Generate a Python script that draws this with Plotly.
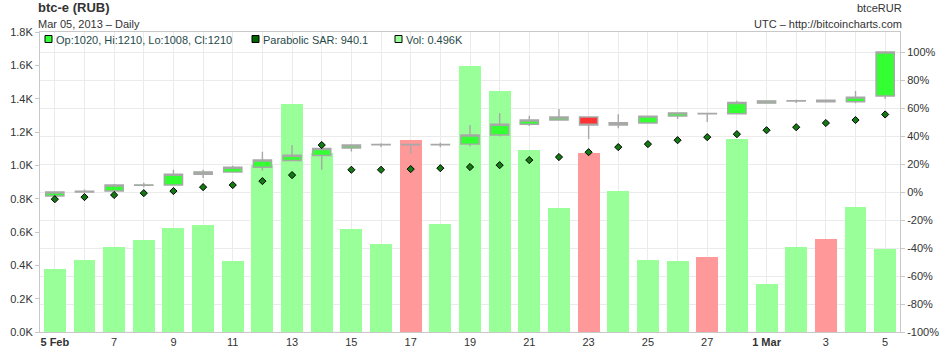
import pandas as pd
import plotly.graph_objects as go

# Daily btc-e RUB candles, 5 Feb - 5 Mar 2013
dates = pd.date_range("2013-02-05", "2013-03-05", freq="D")

opens = [588, 605, 609, 634, 635, 682, 691, 712, 741, 763, 795, 809, 810, 809, 812,
         851, 898, 916, 929, 894, 903, 933, 944, 943, 989, 998, 1002, 995, 1020]
highs = [606, 616, 640, 645, 701, 701, 718, 779, 808, 794, 810, 816, 814, 818, 894,
         946, 934, 964, 929, 941, 935, 947, 948, 999, 1000, 1004, 1003, 1042, 1210]
lows = [587, 603, 609, 625, 634, 665, 689, 698, 740, 701, 780, 799, 769, 798, 802,
        845, 890, 916, 834, 881, 903, 920, 907, 943, 988, 990, 994, 989, 1008]
closes = [605, 608, 635, 636, 682, 692, 712, 743, 764, 793, 808, 811, 809, 811, 851,
          898, 916, 929, 894, 904, 933, 947, 943, 992, 999, 1000, 995, 1015, 1210]
sar = [574, 583, 592, 600, 609, 626, 635, 652, 678, 808, 701, 701, 704, 708, 713,
       721, 743, 756, 777, 799, 812, 829, 842, 855, 872, 885, 903, 916, 940.1]
volume = [378, 432, 510, 552, 624, 642, 426, 1000, 1368, 1075, 618, 528, 1152, 648, 1598,
          1446, 1092, 744, 1074, 846, 432, 426, 452, 1158, 288, 510, 558, 750, 496]

# Axis ticks
vol_ticks = [0, 200, 400, 600, 800, 1000, 1200, 1400, 1600, 1800]
pct_ticks = [-100, -80, -60, -40, -20, 0, 20, 40, 60, 80, 100]
labelled_days = {"2013-02-05": "<b>5 Feb</b>", "2013-02-07": "7", "2013-02-09": "9",
                 "2013-02-11": "11", "2013-02-13": "13", "2013-02-15": "15",
                 "2013-02-17": "17", "2013-02-19": "19", "2013-02-21": "21",
                 "2013-02-23": "23", "2013-02-25": "25", "2013-02-27": "27",
                 "2013-03-01": "<b>1 Mar</b>", "2013-03-03": "3", "2013-03-05": "5"}

FONT = "Liberation Sans, Arial, sans-serif"
UP, DOWN = "#33ff33", "#ff3333"
VOL_UP, VOL_DOWN = "#99ff99", "#ff9999"
GRID = "#ebebeb"
AXIS = "#c8c8c8"
TEXT = "#333333"
LEGEND_TEXT = "#1f4a4a"

W, H = 940, 348
ML, MR, MT, MB = 40, 40, 32, 16

base = closes[0]                       # percent scale is relative to the first close
pct_top = 100 + 20 * 20 / 28           # headroom above the 100% line
day_ms = 86400000

vol_colors = [VOL_DOWN if c < o else VOL_UP for o, c in zip(opens, closes)]

fig = go.Figure()

fig.add_trace(go.Bar(
    x=dates, y=volume, yaxis="y", width=0.74 * day_ms,
    marker=dict(color=vol_colors, line=dict(width=0)),
    hoverinfo="skip", showlegend=False,
))

fig.add_trace(go.Candlestick(
    x=dates, open=opens, high=highs, low=lows, close=closes, yaxis="y2",
    increasing=dict(fillcolor=UP, line=dict(color="#a8a8a8", width=1.4)),
    decreasing=dict(fillcolor=DOWN, line=dict(color="#a8a8a8", width=1.4)),
    whiskerwidth=0, showlegend=False,
))

fig.add_trace(go.Scatter(
    x=dates, y=sar, yaxis="y2", mode="markers",
    marker=dict(symbol="diamond", size=5.5, color="#137a13",
                line=dict(color="#000000", width=1)),
    showlegend=False,
))

tick_dates = list(dates)
tick_text = [labelled_days.get(d.strftime("%Y-%m-%d"), "") for d in dates]

fig.update_layout(
    width=W, height=H,
    margin=dict(l=ML, r=MR, t=MT, b=MB, autoexpand=False),
    paper_bgcolor="white", plot_bgcolor="white",
    font=dict(family=FONT, size=11, color=TEXT),
    boxgap=0.12, bargap=0,
    xaxis=dict(
        type="date",
        range=[dates[0] - pd.Timedelta(hours=12), dates[-1] + pd.Timedelta(hours=12)],
        tickvals=tick_dates, ticktext=tick_text, ticks="",
        showgrid=True, gridcolor=GRID, gridwidth=1,
        showline=True, linecolor=AXIS, linewidth=1, mirror=True,
        rangeslider=dict(visible=False), zeroline=False,
        tickfont=dict(size=11, color=TEXT),
    ),
    yaxis=dict(
        range=[0, 1800], tickvals=vol_ticks,
        ticktext=[f"{v / 1000:.1f}K" for v in vol_ticks],
        showgrid=False, zeroline=False, ticks="outside", ticklen=4,
        tickcolor=AXIS, showline=True, linecolor=AXIS, linewidth=1,
        tickfont=dict(size=11, color=TEXT),
    ),
    yaxis2=dict(
        overlaying="y", side="right",
        range=[0, base * (1 + pct_top / 100)],
        tickvals=[base * (1 + p / 100) for p in pct_ticks],
        ticktext=[f"{p}%" for p in pct_ticks],
        showgrid=True, gridcolor=GRID, gridwidth=1, zeroline=False,
        ticks="outside", ticklen=4, tickcolor=AXIS,
        showline=True, linecolor=AXIS, linewidth=1,
        tickfont=dict(size=11, color=TEXT),
    ),
)


def px_x(x):
    return (x - ML) / (W - ML - MR)


def px_y(y):
    return (H - MB - y) / (H - MT - MB)


def text(x, y, s, anchor="left", size=11, color=TEXT):
    fig.add_annotation(x=px_x(x), y=px_y(y), xref="paper", yref="paper",
                       text=s, showarrow=False, xanchor=anchor, yanchor="middle",
                       font=dict(family=FONT, size=size, color=color),
                       borderpad=0, borderwidth=0)


# Header
text(38, 8, "<b>btc-e (RUB)</b>", size=13)
text(38, 24, "Mar 05, 2013 \u2013 Daily")
text(902, 8, "btceRUR", anchor="right")
text(902, 24, "UTC \u2013 http://bitcoincharts.com", anchor="right")

# Legend strip inside the plot
fig.add_shape(type="rect", xref="paper", yref="paper", layer="between",
              x0=px_x(41), x1=px_x(478), y0=px_y(47), y1=px_y(33),
              fillcolor="white", line=dict(width=0))

legend_items = [
    (45, UP, f"Op:{opens[-1]}, Hi:{highs[-1]}, Lo:{lows[-1]}, Cl:{closes[-1]}"),
    (252, "#006600", f"Parabolic SAR: {sar[-1]}"),
    (395, VOL_UP, f"Vol: {volume[-1] / 1000:.3f}K"),
]
for x0, color, label in legend_items:
    fig.add_shape(type="rect", xref="paper", yref="paper", layer="above",
                  x0=px_x(x0), x1=px_x(x0 + 7), y0=px_y(42.5), y1=px_y(35.5),
                  fillcolor=color, line=dict(color="#000000", width=1))
    text(x0 + 11, 39.5, label, color=LEGEND_TEXT)

fig.write_html("out.html")
